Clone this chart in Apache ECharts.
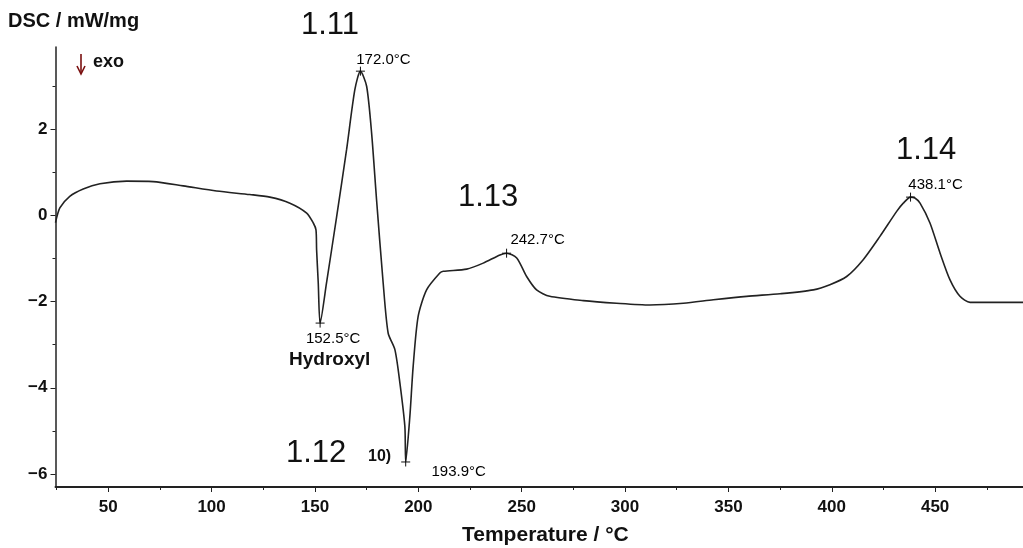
<!DOCTYPE html>
<html>
<head>
<meta charset="utf-8">
<script src="https://cdn.jsdelivr.net/npm/echarts@6/dist/echarts.min.js"></script>
<style>html,body{margin:0;padding:0;background:#fff}#c{width:1023px;height:548px}</style>
</head>
<body>
<div id="c"></div>
<script>
// ---- data ----
const temperature = [24.5,26.6,31.4,37.9,46.0,58.9,71.7,86.3,102.4,118.5,128.2,137.9,146.0,149.2,150.5,150.8,151.6,152.5,155.6,160.5,165.3,169.3,172.0,175.0,177.4,179.8,183.0,185.4,188.7,191.1,193.5,193.9,195.9,197.5,199.9,204.0,210.4,212.1,223.4,231.4,239.5,242.7,247.6,252.4,257.2,263.6,279.8,295.9,312.0,328.2,342.7,358.8,375.0,391.1,399.1,407.2,415.2,423.3,431.4,434.6,438.1,440.2,442.7,447.5,452.4,457.2,462.0,466.9,492.5];
const dsc = [-0.17,0.17,0.44,0.61,0.73,0.79,0.78,0.68,0.56,0.48,0.42,0.28,0.05,-0.18,-0.34,-0.80,-1.57,-2.50,-1.57,-0.03,1.52,2.91,3.34,2.99,1.91,0.36,-1.57,-2.73,-3.12,-3.89,-4.90,-5.72,-4.67,-3.51,-2.35,-1.73,-1.34,-1.30,-1.25,-1.11,-0.92,-0.88,-0.99,-1.42,-1.73,-1.88,-1.98,-2.04,-2.08,-2.04,-1.96,-1.88,-1.82,-1.73,-1.61,-1.42,-1.03,-0.49,0.09,0.28,0.42,0.40,0.28,-0.18,-0.88,-1.50,-1.88,-2.02,-2.02];
const peakT = [172.0, 152.5, 193.9, 242.7, 438.1];
const peakV = [3.34, -2.50, -5.72, -0.88, 0.42];
const peakLabels = ['172.0°C','152.5°C','193.9°C','242.7°C','438.1°C'];
const xTickLabels = [50,100,150,200,250,300,350,400,450];
const xMinorTicks = [25,75,125,175,225,275,325,375,425,475];
const yTickLabels = [-6,-4,-2,0,2];
const yMinorTicks = [-5,-3,-1,1,3];
const stepNames = ['1.11','1.12','1.13','1.14'];

// ---- chart ----
const chart = echarts.init(document.getElementById('c'));
const FONT = '"Liberation Sans", Arial, Helvetica, sans-serif';
const lineCol = '#222';
const labelOffsets = [[23,-11],[13,16],[53,10],[31,-13],[25,-12]];
const peakData = peakT.map((t,i)=>({
  value:[t, peakV[i]],
  label:{show:true, formatter:peakLabels[i], position:'inside', offset:labelOffsets[i]}
}));
const minus = v => (v<0 ? '\u2212'+Math.abs(v) : String(v));

const xBase = {type:'value', min:24.5, max:492.5, gridIndex:0};
const yBase = {type:'value', min:-6.3, max:3.9, gridIndex:0};

chart.setOption({
  animation:false,
  backgroundColor:'#fff',
  grid:{left:55.5, right:0, top:47, bottom:61},
  xAxis:[
    Object.assign({}, xBase, {
      axisLine:{show:true, onZero:false, lineStyle:{color:lineCol, width:2}},
      axisTick:{show:true, inside:false, length:5, customValues:xTickLabels, lineStyle:{color:lineCol, width:1}},
      axisLabel:{show:true, customValues:xTickLabels, margin:12, fontFamily:FONT, fontSize:17, fontWeight:'bold', color:'#111'},
      splitLine:{show:false}
    }),
    Object.assign({}, xBase, {
      position:'bottom',
      axisLine:{show:false, onZero:false},
      axisTick:{show:true, inside:false, length:3, customValues:xMinorTicks, lineStyle:{color:lineCol, width:1}},
      axisLabel:{show:false},
      splitLine:{show:false}
    })
  ],
  yAxis:[
    Object.assign({}, yBase, {
      axisLine:{show:true, onZero:false, lineStyle:{color:lineCol, width:1.5}},
      axisTick:{show:true, inside:false, length:5, customValues:yTickLabels, lineStyle:{color:lineCol, width:1}},
      axisLabel:{show:true, customValues:yTickLabels, margin:8, fontFamily:FONT, fontSize:17, fontWeight:'bold', color:'#111', formatter:minus},
      splitLine:{show:false}
    }),
    Object.assign({}, yBase, {
      position:'left',
      axisLine:{show:false, onZero:false},
      axisTick:{show:true, inside:false, length:3, customValues:yMinorTicks, lineStyle:{color:lineCol, width:1}},
      axisLabel:{show:false},
      splitLine:{show:false}
    })
  ],
  series:[
    {
      type:'line',
      xAxisIndex:0, yAxisIndex:0,
      data:temperature.map((t,i)=>[t, dsc[i]]),
      showSymbol:false,
      smooth:0.25,
      lineStyle:{color:lineCol, width:1.6},
      z:3
    },
    {
      type:'scatter',
      xAxisIndex:0, yAxisIndex:0,
      data:peakData,
      symbol:'path://M5,0 L5,10 M0,5 L10,5',
      symbolSize:9,
      itemStyle:{color:'none', borderColor:'#111', borderWidth:1, opacity:1},
      label:{fontFamily:FONT, fontSize:15, color:'#000', align:'center', verticalAlign:'middle'},
      z:4
    }
  ],
  graphic:[
    {type:'text', left:8, top:11, style:{text:'DSC / mW/mg', font:'bold 20px '+FONT, fill:'#111'}},
    {type:'line', shape:{x1:81, y1:54, x2:81, y2:73}, style:{stroke:'#7a1010', lineWidth:1.6}},
    {type:'polyline', shape:{points:[[77,66],[81,74],[85,66]]}, style:{stroke:'#7a1010', lineWidth:1.6, fill:null}},
    {type:'text', left:93, top:53, style:{text:'exo', font:'bold 18px '+FONT, fill:'#111'}},
    {type:'text', left:289, top:350, style:{text:'Hydroxyl', font:'bold 19px '+FONT, fill:'#111'}},
    {type:'text', left:368, top:449, style:{text:'10)', font:'bold 16px '+FONT, fill:'#111'}},
    {type:'text', left:301, top:10, style:{text:stepNames[0], font:'31px '+FONT, fill:'#111'}},
    {type:'text', left:286, top:438, style:{text:stepNames[1], font:'31px '+FONT, fill:'#111'}},
    {type:'text', left:458, top:182, style:{text:stepNames[2], font:'31px '+FONT, fill:'#111'}},
    {type:'text', left:896, top:135, style:{text:stepNames[3], font:'31px '+FONT, fill:'#111'}},
    {type:'text', left:462, top:525, style:{text:'Temperature / °C', font:'bold 21px '+FONT, fill:'#111'}}
  ]
});
</script>
</body>
</html>
